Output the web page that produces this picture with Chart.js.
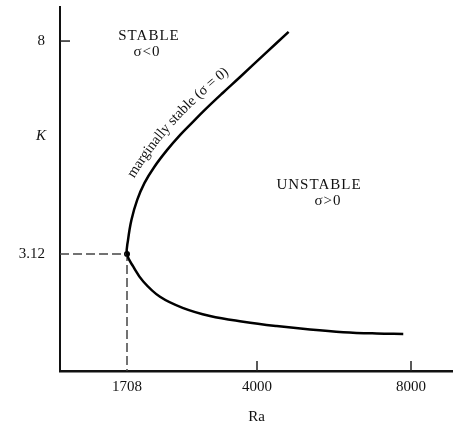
<!DOCTYPE html>
<html><head><meta charset="utf-8">
<script src="https://cdn.jsdelivr.net/npm/chart.js@4.4.1/dist/chart.umd.min.js"></script>
<style>html,body{margin:0;padding:0;background:#fff;}canvas{display:block;}</style>
</head><body>
<canvas id="c" width="453" height="426"></canvas>
<script>
// ---- data ----
const upperRa = [1708, 1726, 1786, 1888, 2017, 2186, 2413, 2646, 2849, 3062, 3395, 3697, 4197, 4821];
const upperK  = [3.12, 3.44, 3.90, 4.36, 4.75, 5.11, 5.50, 5.85, 6.12, 6.40, 6.81, 7.17, 7.70, 8.21];
const lowerRa = [1708, 1819, 1995, 2290, 2701, 3171, 3758, 4512, 5376, 6241, 7107, 7799];
const lowerK  = [3.12, 2.83, 2.49, 2.14, 1.88, 1.70, 1.57, 1.47, 1.39, 1.33, 1.30, 1.29];
const criticalRa = 1708;
const criticalK = 3.12;
const xTickValues = [1708, 4000, 8000];
const xTickLabels = ['1708', '4000', '8000'];
const yTickValues = [3.12, 8];
const yTickLabels = ['3.12', '8'];
const xAxisTitle = 'Ra';
const yAxisTitle = 'K';

// ---- schematic (piecewise-linear) Ra axis, as drawn in the figure ----
const X_MIN = 527, X_MAX = 9091, Y_MIN = 0.44, Y_MAX = 8.78;
const axisAnchorsRa = [1708, 4000, 8000];
const axisAnchorFrac = [67/393, 197/393, 351/393];
function raToFrac(v){
  const a = axisAnchorsRa, f = axisAnchorFrac;
  const i = v < a[1] ? 0 : 1;
  return f[i] + (v - a[i]) * (f[i+1] - f[i]) / (a[i+1] - a[i]);
}
function fracToRa(d){
  const a = axisAnchorsRa, f = axisAnchorFrac;
  const i = d < f[1] ? 0 : 1;
  return a[i] + (d - f[i]) * (a[i+1] - a[i]) / (f[i+1] - f[i]);
}
class SchematicScale extends Chart.LinearScale {
  getPixelForValue(value){
    if (value === null || value === undefined || isNaN(value)) return NaN;
    return this.getPixelForDecimal(raToFrac(value));
  }
  getValueForPixel(pixel){ return fracToRa(this.getDecimalForPixel(pixel)); }
}
SchematicScale.id = 'schematic';
SchematicScale.defaults = Chart.LinearScale.defaults;
Chart.register(SchematicScale);

const curve = lowerRa.slice().reverse().map((r, i) => ({x: r, y: lowerK[lowerK.length - 1 - i]}))
  .concat(upperRa.slice(1).map((r, i) => ({x: r, y: upperK[i + 1]})));

const SERIF = "'Liberation Serif', 'DejaVu Serif', serif";

function drawTextOnQuad(ctx, text, P0, P1, P2){
  const N = 300, pts = [], cum = [0];
  let len = 0;
  for (let i = 0; i <= N; i++){
    const t = i / N;
    const x = (1-t)*(1-t)*P0.x + 2*(1-t)*t*P1.x + t*t*P2.x;
    const y = (1-t)*(1-t)*P0.y + 2*(1-t)*t*P1.y + t*t*P2.y;
    pts.push({x, y});
    if (i > 0){ len += Math.hypot(x - pts[i-1].x, y - pts[i-1].y); cum.push(len); }
  }
  const w = ctx.measureText(text).width;
  let d = (len - w) / 2;
  for (const ch of text){
    const cw = ctx.measureText(ch).width;
    const mid = d + cw / 2;
    let i = cum.findIndex(c => c >= mid);
    if (i === -1) i = N;
    if (i < 1) i = 1;
    const p = pts[i], q = pts[i-1];
    const f = (mid - cum[i-1]) / ((cum[i] - cum[i-1]) || 1);
    const px = q.x + (p.x - q.x) * f, py = q.y + (p.y - q.y) * f;
    const ang = Math.atan2(p.y - q.y, p.x - q.x);
    ctx.save(); ctx.translate(px, py); ctx.rotate(ang); ctx.fillText(ch, 0, 0); ctx.restore();
    d += cw;
  }
}

const annotations = {
  id: 'annotations',
  afterDatasetsDraw(chart){
    const {ctx, scales: {x, y}} = chart;
    const P = (ra, k) => ({x: x.getPixelForValue(ra), y: y.getPixelForValue(k)});
    ctx.save();
    // inward tick marks
    ctx.strokeStyle = '#222';
    ctx.lineWidth = 1.5;
    const p8 = y.getPixelForValue(8);
    ctx.beginPath(); ctx.moveTo(x.left, p8); ctx.lineTo(x.left + 10, p8); ctx.stroke();
    [4000, 8000].forEach(v => {
      const px = x.getPixelForValue(v);
      ctx.beginPath(); ctx.moveTo(px, y.bottom); ctx.lineTo(px, y.bottom - 10); ctx.stroke();
    });
    // region labels
    ctx.fillStyle = '#111';
    ctx.textAlign = 'center';
    ctx.textBaseline = 'middle';
    ctx.letterSpacing = '1px';
    ctx.font = '15px ' + SERIF;
    let p = P(2096, 8.11); ctx.fillText('STABLE', p.x, p.y);
    p = P(2061, 7.75); ctx.fillText('σ<0', p.x, p.y);
    p = P(5610, 4.70); ctx.fillText('UNSTABLE', p.x, p.y);
    p = P(5843, 4.33); ctx.fillText('σ>0', p.x, p.y);
    ctx.letterSpacing = '0px';
    // label along the curve
    ctx.font = '14.5px ' + SERIF;
    drawTextOnQuad(ctx, 'marginally stable (σ = 0)', P(1726, 4.79), P(2346, 6.19), P(3542, 7.40));
    // y axis title
    ctx.font = 'italic 15px ' + SERIF;
    ctx.fillText(yAxisTitle, 41, y.getPixelForValue(5.82));
    ctx.restore();
  }
};

new Chart(document.getElementById('c'), {
  type: 'line',
  data: {
    datasets: [
      { data: curve, borderColor: '#000', borderWidth: 2.5, pointRadius: 0, tension: 0.4, fill: false },
      { data: [{x: X_MIN, y: criticalK}, {x: criticalRa, y: criticalK}, {x: criticalRa, y: Y_MIN}],
        borderColor: '#444', borderWidth: 1.5, borderDash: [9, 4], pointRadius: 0, tension: 0, fill: false },
      { data: [{x: criticalRa, y: criticalK}], showLine: false, pointRadius: 3,
        pointBackgroundColor: '#000', pointBorderColor: '#000', pointBorderWidth: 0 }
    ]
  },
  options: {
    responsive: false,
    devicePixelRatio: 1,
    animation: false,
    layout: {autoPadding: false, padding: {top: 7, right: 0, left: 0, bottom: 0}},
    plugins: {legend: {display: false}, tooltip: {enabled: false}},
    scales: {
      x: {
        type: 'schematic',
        min: X_MIN, max: X_MAX,
        grid: {display: false, drawTicks: false},
        border: {display: true, color: '#111', width: 2.5},
        afterBuildTicks: s => { s.ticks = xTickValues.map(v => ({value: v})); },
        afterFit: s => { s.height = 55; s.paddingLeft = 0; s.paddingRight = 0; },
        ticks: {
          autoSkip: false, maxRotation: 0, padding: 7,
          color: '#111', font: {family: SERIF, size: 15},
          callback: v => xTickLabels[xTickValues.indexOf(v)]
        },
        title: {display: true, text: xAxisTitle, color: '#111', font: {family: SERIF, size: 15}, padding: {top: 4, bottom: 0}}
      },
      y: {
        type: 'linear',
        min: Y_MIN, max: Y_MAX,
        grid: {display: false, drawTicks: false},
        border: {display: true, color: '#111', width: 2},
        afterBuildTicks: s => { s.ticks = yTickValues.map(v => ({value: v})); },
        afterFit: s => { s.width = 60; s.paddingTop = 0; s.paddingBottom = 0; },
        ticks: {
          autoSkip: false, padding: 15,
          color: '#111', font: {family: SERIF, size: 15},
          callback: v => yTickLabels[yTickValues.indexOf(v)]
        }
      }
    }
  },
  plugins: [annotations]
});
</script>
</body></html>
